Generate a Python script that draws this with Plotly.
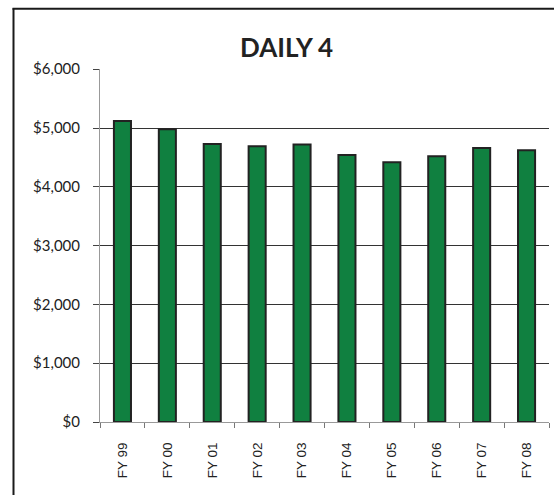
import plotly.graph_objects as go

categories = ["FY 99", "FY 00", "FY 01", "FY 02", "FY 03", "FY 04", "FY 05", "FY 06", "FY 07", "FY 08"]
values = [5120, 4980, 4730, 4690, 4720, 4540, 4420, 4520, 4660, 4620]
y_tick_values = [0, 1000, 2000, 3000, 4000, 5000, 6000]
y_tick_labels = ["$0", "$1,000", "$2,000", "$3,000", "$4,000", "$5,000", "$6,000"]
title_text = "DAILY 4"

W, H = 554, 495
L, R_PX, TOP, BOT = 100, 549, 68.7, 421.7
PW, PH = R_PX - L, BOT - TOP


def px_x(v):
    return (v - L) / PW


def px_y(v):
    return (BOT - v) / PH


fig = go.Figure(
    go.Bar(
        x=categories,
        y=values,
        marker=dict(color="#108040", line=dict(color="#222222", width=2)),
    )
)

frame = dict(color="#1a1a1a", width=2)
fig.update_layout(
    width=W,
    height=H,
    margin=dict(l=L, r=W - R_PX, t=TOP, b=H - BOT, autoexpand=False),
    paper_bgcolor="white",
    plot_bgcolor="white",
    bargap=0.62,
    showlegend=False,
    annotations=[
        dict(
            text="<b>" + title_text + "</b>",
            xref="paper", yref="paper",
            x=px_x(286), y=px_y(47),
            xanchor="center", yanchor="middle",
            showarrow=False,
            font=dict(family="Lato", size=26, color="#222222"),
        )
    ],
    shapes=[
        dict(type="line", xref="paper", yref="paper",
             x0=px_x(13.5), x1=px_x(13.5), y0=px_y(8), y1=px_y(500),
             line=frame, layer="below"),
        dict(type="line", xref="paper", yref="paper",
             x0=px_x(12.5), x1=px_x(556), y0=px_y(8.5), y1=px_y(8.5),
             line=frame, layer="below"),
    ],
)

fig.update_yaxes(
    range=[0, 6004],
    tickvals=y_tick_values,
    ticktext=y_tick_labels,
    showgrid=True,
    gridcolor="#333333",
    gridwidth=1,
    zeroline=False,
    showline=True,
    linecolor="#999999",
    linewidth=1,
    ticks="outside",
    ticklen=6,
    tickcolor="#444444",
    ticklabelstandoff=10,
    tickfont=dict(family="Lato", size=15, color="#222222"),
    automargin=False,
    fixedrange=True,
)

fig.update_xaxes(
    showline=True,
    linecolor="#999999",
    linewidth=1,
    ticks="outside",
    tickson="boundaries",
    ticklen=5,
    tickcolor="#777777",
    tickangle=-90,
    ticklabelstandoff=14,
    tickfont=dict(family="Liberation Sans", size=13.5, color="#222222"),
    showgrid=False,
    automargin=False,
    fixedrange=True,
)

fig.write_html(
    "out.html",
    config={"displayModeBar": False},
    post_script=(
        "document.body.style.margin='0';"
        "document.body.style.overflow='hidden';"
        "document.documentElement.style.overflow='hidden';"
    ),
)
